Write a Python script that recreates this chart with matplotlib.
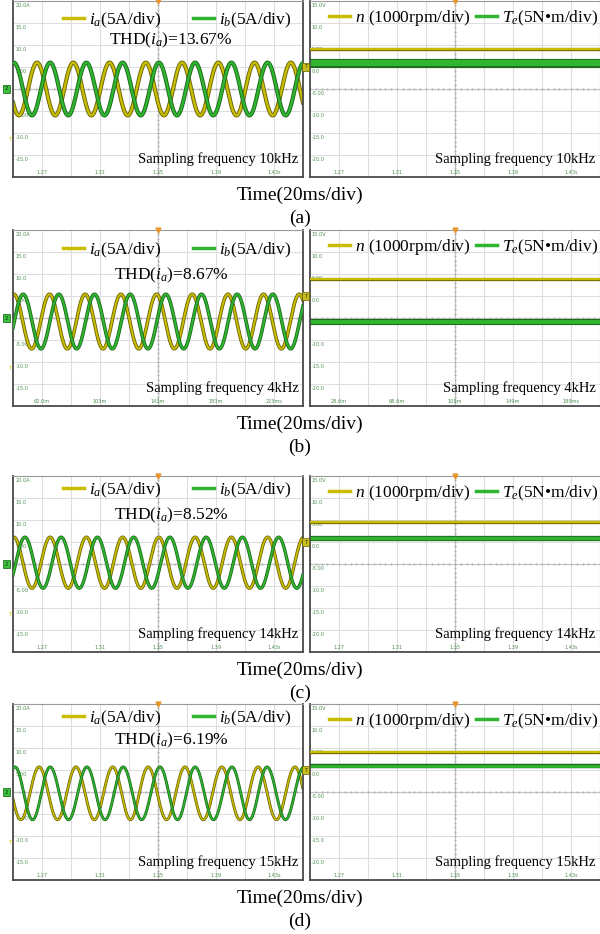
import numpy as np
import matplotlib.pyplot as plt
from matplotlib.transforms import blended_transform_factory

plt.rcParams['font.family'] = ['Liberation Serif', 'DejaVu Serif']
plt.rcParams['mathtext.fontset'] = 'custom'
plt.rcParams['mathtext.rm'] = 'Liberation Serif'
plt.rcParams['mathtext.it'] = 'Liberation Serif:italic'

W, H = 600, 934

# ---- data (time in divisions, 20 ms/div) ----
panel_tags = ['(a)', '(b)', '(c)', '(d)']
thd_values = ['13.67%', '8.67%', '8.52%', '6.19%']
fs_values = ['10kHz', '4kHz', '14kHz', '15kHz']

left_xticks = [['1.27', '1.31', '1.35', '1.39', '1.43s'],
               ['62.0m', '103m', '143m', '183m', '223ms'],
               ['1.27', '1.31', '1.35', '1.39', '1.43s'],
               ['1.27', '1.31', '1.35', '1.39', '1.43s']]
right_xticks = [['1.27', '1.31', '1.35', '1.39', '1.43s'],
                ['28.6m', '68.6m', '109m', '149m', '189ms'],
                ['1.27', '1.31', '1.35', '1.39', '1.43s'],
                ['1.27', '1.31', '1.35', '1.39', '1.43s']]
left_yticks = [20, 15, 10, 5, -5, -10, -15]
left_ylabels = ['20.0A', '15.0', '10.0', '5.00', '-5.00', '-10.0', '-15.0']
right_yticks = [15, 10, 5, 0, -5, -10, -15, -20]
right_ylabels = ['15.0V', '10.0', '5.00', '0.0', '-5.00', '-10.0', '-15.0', '-20.0']

# positive peak times of each phase current (div)
ia_peaks = [[0.83, 2.08, 3.33, 4.58, 5.83, 7.08, 8.33, 9.58],
            [0.03, 1.26, 2.49, 3.72, 4.95, 6.18, 7.41, 8.64, 9.87],
            [0.03, 1.28, 2.53, 3.78, 5.03, 6.28, 7.53, 8.78, 10.03],
            [0.90, 2.17, 3.44, 4.66, 5.93, 7.20, 8.45, 9.72]]
ib_peaks = [[0.03, 1.28, 2.53, 3.78, 5.03, 6.28, 7.53, 8.78, 10.03],
            [0.35, 1.58, 2.81, 4.04, 5.27, 6.50, 7.73, 8.96, 10.19],
            [0.41, 1.66, 2.91, 4.16, 5.41, 6.66, 7.91, 9.16, 10.41],
            [0.07, 1.28, 2.55, 3.80, 5.07, 6.28, 7.55, 8.76, 10.03]]
i_amp = [6.0, 6.2, 5.8, 6.0]          # A
i_offset = [0.0, -0.8, 0.3, -0.3]     # A
i_band = [2.4, 2.0, 1.8, 1.5]         # trace thickness, pt
speed_level = [4.1, 3.9, 4.5, 4.1]    # screen units
torque_level = [1.0, -5.9, 1.0, 0.9]
torque_band = [6.0, 3.8, 3.2, 2.6]    # trace thickness, pt

# ---- layout in pixels ----
screen_top = [1, 230, 476, 704]
screen_bot = [177, 406, 652, 880]
legend_dy = [19, 20, 14, 14]
thd_dy = [39, 45, 39, 36]
left_x0, left_x1 = 13, 303
right_x0, right_x1 = 310, 600

YEL = '#c8bd00'
YEL_D = '#6a6408'
GRN = '#2fb52f'
GRN_D = '#1d6a1d'
TICKC = '#4f8f4f'

fig = plt.figure(figsize=(W / 100, H / 100), dpi=100)


def px_axes(x0, y0, x1, y1):
    return fig.add_axes([x0 / W, 1 - y1 / H, (x1 - x0) / W, (y1 - y0) / H])


def scope_grid(ax, ylo, yhi):
    ax.set_xlim(0, 10)
    ax.set_ylim(ylo, yhi)
    ax.set_xticks([])
    ax.set_yticks([])
    for x in range(1, 10):
        ax.axvline(x, color='#dedede', lw=0.8, zorder=0)
    for y in np.arange(ylo + 5, yhi, 5):
        ax.axhline(y, color='#dedede', lw=0.8, zorder=0)
    ym = (ylo + yhi) / 2
    ax.axvline(5, color='#c4c4c4', lw=0.8, zorder=0)
    ax.axhline(ym, color='#c4c4c4', lw=0.8, zorder=0)
    minor = np.arange(0, 10.01, 0.2)
    ax.plot(minor, np.full_like(minor, ym), '|', color='#b0b0b0', ms=2, zorder=0)
    yminor = np.arange(ylo, yhi + 0.01, 1.0)
    ax.plot(np.full_like(yminor, 5), yminor, '_', color='#b0b0b0', ms=2, zorder=0)
    for s in ['top', 'right']:
        ax.spines[s].set_color('#9a9a9a')
        ax.spines[s].set_linewidth(0.8)
    for s in ['left', 'bottom']:
        ax.spines[s].set_color('#4a4a4a')
        ax.spines[s].set_linewidth(1.3)
    ax.plot(5, yhi, 'v', color='#e8952a', ms=3.5, clip_on=False, zorder=5)


def phase_wave(t, peaks, amp, off):
    p = np.array(peaks)
    T = np.mean(np.diff(p))
    p = np.concatenate([[p[0] - T], p, [p[-1] + T]])
    ph = np.interp(t, p, np.arange(len(p)))
    return off + amp * np.cos(2 * np.pi * ph)


t = np.linspace(0, 10, 1500)

for k in range(4):
    top, bot = screen_top[k], screen_bot[k]

    # ---------- left screen: phase currents ----------
    ax = px_axes(left_x0, top, left_x1, bot)
    scope_grid(ax, -20, 20)
    ax.spines['right'].set_color('#4a4a4a')
    ax.spines['right'].set_linewidth(1.3)
    for yv, lab in zip(left_yticks, left_ylabels):
        ax.text(0.08, yv - 0.5, lab, fontsize=3.6, color=TICKC, va='top',
                family='DejaVu Sans', zorder=1)
    for xv, lab in zip([1, 3, 5, 7, 9], left_xticks[k]):
        ax.text(xv, -19.6, lab, fontsize=3.6, color=TICKC, ha='center',
                va='bottom', family='DejaVu Sans', zorder=1)
    ia = phase_wave(t, ia_peaks[k], i_amp[k], i_offset[k])
    ib = phase_wave(t, ib_peaks[k], i_amp[k], i_offset[k])
    bw = i_band[k]
    ax.plot(t, ia, color=YEL_D, lw=bw + 0.6, zorder=2)
    ax.plot(t, ia, color=YEL, lw=bw * 0.7, zorder=2)
    ax.plot(t, ib, color=GRN_D, lw=bw + 0.6, zorder=3)
    ax.plot(t, ib, color=GRN, lw=bw * 0.7, zorder=3)
    ax.text(-0.022, 0, '2', transform=blended_transform_factory(ax.transAxes, ax.transData),
            fontsize=4, color='#0d3d0d', ha='center', va='center', clip_on=False,
            family='DejaVu Sans',
            bbox=dict(boxstyle='square,pad=0.35', fc='#3cbf3c', ec='#0d5d0d', lw=0.5))
    ax.text(-0.012, -11.5, 'T', transform=blended_transform_factory(ax.transAxes, ax.transData),
            fontsize=4, color='#d8c800', ha='center', va='center', clip_on=False,
            family='DejaVu Sans')
    ax.plot([], [], color=YEL, lw=2.5, label=r'$i_a$(5A/div)')
    ax.plot([], [], color=GRN, lw=2.5, label=r'$i_b$(5A/div)')
    ly = 1 - legend_dy[k] / (bot - top)
    ax.legend(loc='center', bbox_to_anchor=(0.566, ly), ncol=2, frameon=False,
              fontsize=12.5, handlelength=1.2, handletextpad=0.3, columnspacing=1.8,
              borderpad=0, borderaxespad=0)
    ax.text(0.545, 1 - thd_dy[k] / (bot - top), r'THD($i_a$)=' + thd_values[k],
            transform=ax.transAxes, fontsize=12.5, ha='center', va='center', zorder=6)
    ax.text(0.985, 0.10, 'Sampling frequency ' + fs_values[k], transform=ax.transAxes,
            fontsize=10.5, ha='right', va='center', zorder=6)

    # ---------- right screen: speed and torque ----------
    ax2 = px_axes(right_x0, top, right_x1, bot)
    scope_grid(ax2, -25, 15)
    for yv, lab in zip(right_yticks, right_ylabels):
        ax2.text(0.06, yv - 0.5, lab, fontsize=3.6, color=TICKC, va='top',
                 family='DejaVu Sans', zorder=1)
    for xv, lab in zip([1, 3, 5, 7, 9], right_xticks[k]):
        ax2.text(xv, -24.6, lab, fontsize=3.6, color=TICKC, ha='center',
                 va='bottom', family='DejaVu Sans', zorder=1)
    tb = torque_band[k]
    ax2.plot([0, 10], [torque_level[k]] * 2, color=GRN_D, lw=tb + 0.6, zorder=2)
    ax2.plot([0, 10], [torque_level[k]] * 2, color=GRN, lw=tb * 0.75, zorder=2)
    ax2.plot([0, 10], [speed_level[k]] * 2, color='#7a7200', lw=2.4, zorder=3)
    ax2.plot([0, 10], [speed_level[k]] * 2, color='#e0d400', lw=1.1, zorder=3)
    ax2.text(-0.015, 0, 'T', transform=blended_transform_factory(ax2.transAxes, ax2.transData),
             fontsize=3.5, color='#3a3500', ha='center', va='center', clip_on=False,
             family='DejaVu Sans',
             bbox=dict(boxstyle='square,pad=0.4', fc='#c8bd20', ec='#6a6200', lw=0.5))
    ax2.plot([], [], color=YEL, lw=2.5, label=r'$n$ (1000rpm/div)')
    ax2.plot([], [], color=GRN, lw=2.5, label=r'$T_e$(5N•m/div)')
    ax2.legend(loc='center', bbox_to_anchor=(0.53, 1 - 17 / (bot - top)), ncol=2,
               frameon=False, fontsize=12.5, handlelength=1.2, handletextpad=0.3,
               columnspacing=0.3, borderpad=0, borderaxespad=0)
    ax2.text(0.985, 0.10, 'Sampling frequency ' + fs_values[k], transform=ax2.transAxes,
             fontsize=10.5, ha='right', va='center', zorder=6)

    # ---------- captions ----------
    fig.text(0.5, 1 - (bot + 18) / H, 'Time(20ms/div)', fontsize=14, ha='center', va='center')
    fig.text(0.5, 1 - (bot + 41) / H, panel_tags[k], fontsize=14, ha='center', va='center')

fig.savefig('out.png', dpi=100, facecolor='white')
